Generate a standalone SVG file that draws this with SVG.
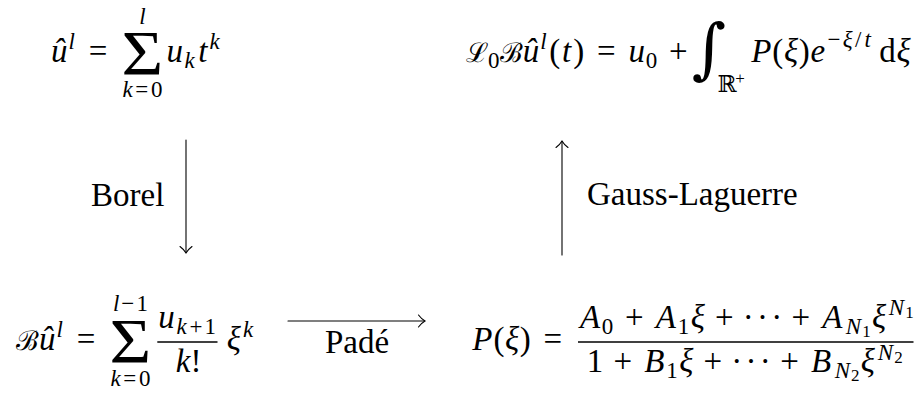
<svg xmlns="http://www.w3.org/2000/svg" width="920" height="394" viewBox="0 0 920 394">
<style>
text { font-family: "Liberation Serif", serif; fill: #000; }
.m { font-family: "Liberation Serif", serif; font-size: 33px; font-style: italic; text-anchor: middle; }
.r { font-style: normal; }
.s { font-size: 23px; }
.ss { font-size: 17px; }
.cal { font-family: "DejaVu Serif", serif; font-style: normal; font-size: 27px; }
.op { font-family: "Liberation Serif", serif; font-style: normal; text-anchor: middle; }
.lbl { font-family: "Liberation Serif", serif; font-size: 33px; }
.rule { stroke: #000; stroke-width: 1.3; }
.arr { fill: none; stroke: #000; stroke-width: 1.1; stroke-linecap: round; }
</style>
<rect width="920" height="394" fill="#fff"/>

<g id="node-top-left">
  <text class="m" x="59.2" y="62">û</text>
  <text class="m s" x="71.7" y="49">l</text>
  <text class="m r" x="98" y="62">=</text>
  <text class="op" x="142.4" y="75" font-size="64" transform="translate(142.4 0) scale(1.12 1) translate(-142.4 0)">Σ</text>
  <text class="m s" x="142.4" y="24">l</text>
  <text class="m s" x="142.4" y="97" textLength="40" lengthAdjust="spacing">k<tspan class="r">=0</tspan></text>
  <text class="m" x="174.7" y="62">u</text>
  <text class="m s" x="189.6" y="68">k</text>
  <text class="m" x="202.9" y="62">t</text>
  <text class="m s" x="214.6" y="49">k</text>
</g>

<g id="node-top-right">
  <text class="m cal" x="477" y="62">ℒ</text>
  <text class="m s r" x="493.7" y="68">0</text>
  <text class="m cal" x="511.4" y="62">ℬ</text>
  <text class="m" x="531" y="62">û</text>
  <text class="m s" x="543.5" y="49">l</text>
  <text class="m r" x="554.7" y="62">(</text>
  <text class="m" x="566.7" y="62">t</text>
  <text class="m r" x="578.7" y="62">)</text>
  <text class="m r" x="606.2" y="62">=</text>
  <text class="m" x="636.7" y="62">u</text>
  <text class="m s r" x="651.5" y="68">0</text>
  <text class="m r" x="678.2" y="62">+</text>
  <text class="op" x="709" y="71" font-size="66" style="font-family:'DejaVu Serif',serif">∫</text>
  <text class="m s r" x="727" y="92" style="font-family:'DejaVu Serif',serif">ℝ</text>
  <text class="m ss r" x="740" y="84">+</text>
  <text class="m" x="761.4" y="62">P</text>
  <text class="m r" x="777.8" y="62">(</text>
  <text class="m" x="791" y="62">ξ</text>
  <text class="m r" x="804.2" y="62">)</text>
  <text class="m" x="817.9" y="62">e</text>
  <text class="m s r" x="834" y="47">−</text>
  <text class="m s" x="847.6" y="47">ξ</text>
  <text class="m s r" x="858.1" y="47">/</text>
  <text class="m s" x="867.8" y="47">t</text>
  <text class="m r" x="887.6" y="62">d</text>
  <text class="m" x="903.5" y="62">ξ</text>
</g>

<g id="node-bottom-left">
  <text class="m cal" x="27.5" y="350">ℬ</text>
  <text class="m" x="47.2" y="350">û</text>
  <text class="m s" x="59.7" y="337">l</text>
  <text class="m r" x="86" y="350">=</text>
  <text class="op" x="130.4" y="363" font-size="64" transform="translate(130.4 0) scale(1.12 1) translate(-130.4 0)">Σ</text>
  <text class="m s" x="130.4" y="311" textLength="35" lengthAdjust="spacing">l<tspan class="r">−1</tspan></text>
  <text class="m s" x="130.4" y="386" textLength="40" lengthAdjust="spacing">k<tspan class="r">=0</tspan></text>
  <text class="m" x="166.5" y="328">u</text>
  <text class="m s" x="181.5" y="334">k</text>
  <text class="m s r" x="196" y="334">+</text>
  <text class="m s r" x="210.3" y="334">1</text>
  <line class="rule" x1="157.3" y1="342" x2="217.5" y2="342"/>
  <text class="m" x="183" y="372">k</text>
  <text class="m r" x="196" y="372">!</text>
  <text class="m" x="233.7" y="350">ξ</text>
  <text class="m s" x="248" y="337">k</text>
</g>

<g id="node-bottom-right">
  <text class="m" x="482.4" y="350">P</text>
  <text class="m r" x="498.9" y="350">(</text>
  <text class="m" x="512.1" y="350">ξ</text>
  <text class="m r" x="525.3" y="350">)</text>
  <text class="m r" x="552.8" y="350">=</text>
  <text class="m" x="590" y="328">A</text>
  <text class="m s r" x="607.6" y="334">0</text>
  <text class="m r" x="634.4" y="328">+</text>
  <text class="m" x="665.9" y="328">A</text>
  <text class="m s r" x="683.5" y="334">1</text>
  <text class="m" x="697.7" y="328">ξ</text>
  <text class="m r" x="724.3" y="328">+</text>
  <text class="m r" x="748.2" y="328">·</text>
  <text class="m r" x="762.5" y="328">·</text>
  <text class="m r" x="776.7" y="328">·</text>
  <text class="m r" x="800.9" y="328">+</text>
  <text class="m" x="832.4" y="328">A</text>
  <text class="m s" x="853.4" y="334">N</text>
  <text class="m ss r" x="866.4" y="337">1</text>
  <text class="m" x="879" y="328">ξ</text>
  <text class="m s" x="896.5" y="315">N</text>
  <text class="m ss r" x="909.5" y="318">1</text>
  <line class="rule" x1="578" y1="342" x2="913.5" y2="342"/>
  <text class="m r" x="595.1" y="372">1</text>
  <text class="m r" x="622.7" y="372">+</text>
  <text class="m" x="654.4" y="372">B</text>
  <text class="m s r" x="672.1" y="378">1</text>
  <text class="m" x="686.3" y="372">ξ</text>
  <text class="m r" x="712.9" y="372">+</text>
  <text class="m r" x="736.8" y="372">·</text>
  <text class="m r" x="751" y="372">·</text>
  <text class="m r" x="765.3" y="372">·</text>
  <text class="m r" x="789.5" y="372">+</text>
  <text class="m" x="821.2" y="372">B</text>
  <text class="m s" x="842.3" y="378">N</text>
  <text class="m ss r" x="855.3" y="381">2</text>
  <text class="m" x="867.9" y="372">ξ</text>
  <text class="m s" x="885.4" y="360">N</text>
  <text class="m ss r" x="898.4" y="363">2</text>
</g>

<g id="connectors">
  <g id="edge-borel">
    <line class="arr" x1="186" y1="140" x2="186" y2="252.5"/>
    <path class="arr" d="M180,246.5 Q184,249.5 186,253 Q188,249.5 192,246.5"/>
    <text class="lbl" x="91" y="206">Borel</text>
  </g>
  <g id="edge-gauss-laguerre">
    <line class="arr" x1="562" y1="255" x2="562" y2="141.5"/>
    <path class="arr" d="M556,147.5 Q560,144.5 562,141 Q564,144.5 568,147.5"/>
    <text class="lbl" x="587" y="205">Gauss-Laguerre</text>
  </g>
  <g id="edge-pade">
    <line class="arr" x1="288" y1="321" x2="424.5" y2="321"/>
    <path class="arr" d="M418.5,315 Q421.5,319 425,321 Q421.5,323 418.5,327"/>
    <text class="lbl" x="357" y="353" text-anchor="middle">Padé</text>
  </g>
</g>
</svg>
